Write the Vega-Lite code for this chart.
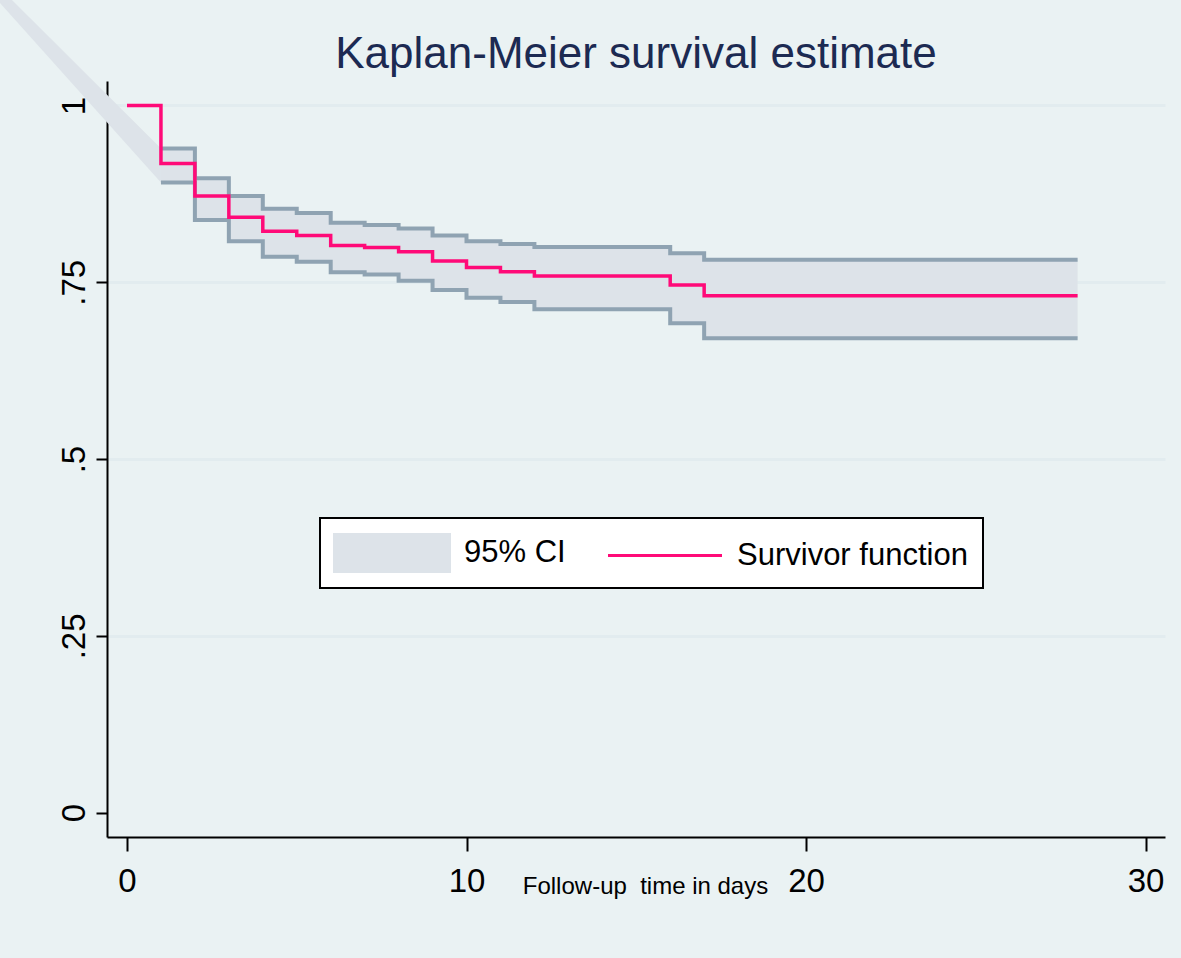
{
  "$schema": "https://vega.github.io/schema/vega-lite/v6.json",
  "width": 1058,
  "height": 756,
  "autosize": {"type": "none"},
  "padding": {"left": 107, "top": 81, "right": 16, "bottom": 121},
  "background": "#eaf2f3",
  "title": {
    "text": "Kaplan-Meier survival estimate",
    "font": "Liberation Sans, Arial, sans-serif",
    "fontSize": 44,
    "fontWeight": "normal",
    "color": "#1c2a52",
    "anchor": "middle",
    "frame": "group",
    "offset": 4,
    "dy": 93
  },
  "config": {
    "view": {"fill": "white", "stroke": null},
    "axis": {
      "domainColor": "black",
      "domainWidth": 2,
      "tickColor": "black",
      "tickWidth": 2,
      "labelColor": "black",
      "titleColor": "black",
      "titleFontWeight": "normal",
      "labelFlush": false,
      "labelOverlap": false
    },
    "legend": {"strokeColor": "black", "strokeWidth": 2, "fillColor": "white", "cornerRadius": 0}
  },
  "datasets": {
    "km": [
      {"t": 0, "s": 1.0, "lo": null, "hi": null},
      {"t": 1, "s": 0.918, "lo": 0.891, "hi": 0.939},
      {"t": 2, "s": 0.872, "lo": 0.838, "hi": 0.897},
      {"t": 3, "s": 0.842, "lo": 0.808, "hi": 0.872},
      {"t": 4, "s": 0.822, "lo": 0.786, "hi": 0.854},
      {"t": 5, "s": 0.816, "lo": 0.779, "hi": 0.848},
      {"t": 6, "s": 0.802, "lo": 0.764, "hi": 0.834},
      {"t": 7, "s": 0.799, "lo": 0.761, "hi": 0.831},
      {"t": 8, "s": 0.793, "lo": 0.752, "hi": 0.826},
      {"t": 9, "s": 0.780, "lo": 0.739, "hi": 0.816},
      {"t": 10, "s": 0.771, "lo": 0.728, "hi": 0.808},
      {"t": 11, "s": 0.765, "lo": 0.722, "hi": 0.804},
      {"t": 12, "s": 0.759, "lo": 0.712, "hi": 0.800},
      {"t": 16, "s": 0.746, "lo": 0.692, "hi": 0.791},
      {"t": 17, "s": 0.731, "lo": 0.671, "hi": 0.782},
      {"t": 28, "s": 0.731, "lo": 0.671, "hi": 0.782}
    ],
    "diag": [
      {"t": -3.74, "lo": 1.145, "hi": 1.166},
      {"t": 1, "lo": 0.891, "hi": 0.939}
    ]
  },
  "layer": [
    {
      "data": {"name": "diag"},
      "mark": {"type": "area", "color": "#dde3e9", "clip": false, "interpolate": "linear"},
      "encoding": {
        "x": {
          "field": "t", "type": "quantitative",
          "scale": {"domain": [-0.589, 30.574], "nice": false, "zero": false},
          "axis": {
            "values": [0, 10, 20, 30],
            "format": "d",
            "tickSize": 14,
            "grid": false,
            "labelFont": "Liberation Sans, Arial, sans-serif",
            "labelFontSize": 33,
            "labelPadding": 14,
            "title": "Follow-up \u00a0time in days",
            "titleFont": "Liberation Sans, Arial, sans-serif",
            "titleFontSize": 24,
            "titleX": 538,
            "titleY": 56,
            "titleAlign": "center",
            "titleBaseline": "alphabetic"
          }
        },
        "y": {
          "field": "lo", "type": "quantitative",
          "scale": {"domain": [-0.0344, 1.0346], "nice": false, "zero": false},
          "axis": {
            "values": [0, 0.25, 0.5, 0.75, 1],
            "labelExpr": "datum.value == 0 ? '0' : datum.value == 1 ? '1' : replace(format(datum.value, '.2~f'), '0.', '.')",
            "tickSize": 11,
            "grid": true,
            "gridColor": "#e2ecef",
            "gridWidth": 3,
            "gridOpacity": {"condition": {"test": "datum.value == 0", "value": 0}, "value": 1},
            "labelFont": "Liberation Sans, Arial, sans-serif",
            "labelFontSize": 33,
            "labelAngle": 270,
            "labelAlign": "center",
            "labelBaseline": "alphabetic",
            "labelPadding": 12,
            "title": null
          }
        },
        "y2": {"field": "hi"}
      }
    },
    {
      "data": {"name": "km"},
      "mark": {"type": "area", "color": "#dde3e9", "interpolate": "step-after"},
      "encoding": {
        "x": {"field": "t", "type": "quantitative"},
        "y": {"field": "lo", "type": "quantitative"},
        "y2": {"field": "hi"}
      }
    },
    {
      "data": {"name": "km"},
      "mark": {"type": "line", "color": "#8fa3b2", "strokeWidth": 4, "interpolate": "step-after"},
      "encoding": {
        "x": {"field": "t", "type": "quantitative"},
        "y": {"field": "lo", "type": "quantitative"}
      }
    },
    {
      "data": {"name": "km"},
      "mark": {"type": "line", "color": "#8fa3b2", "strokeWidth": 4, "interpolate": "step-after"},
      "encoding": {
        "x": {"field": "t", "type": "quantitative"},
        "y": {"field": "hi", "type": "quantitative"}
      }
    },
    {
      "data": {"name": "km"},
      "mark": {"type": "line", "color": "#ff0a78", "strokeWidth": 3.5, "interpolate": "step-after"},
      "encoding": {
        "x": {"field": "t", "type": "quantitative"},
        "y": {"field": "s", "type": "quantitative"}
      }
    },
    {
      "data": {"values": []},
      "mark": {"type": "point", "filled": true, "opacity": 1},
      "encoding": {
        "color": {
          "field": "series", "type": "nominal",
          "scale": {"domain": ["95% CI", "Survivor function"], "range": ["#dde3e9", "#ff0a78"]},
          "legend": {
            "title": null, "orient": "none", "legendX": 213, "legendY": 437,
            "direction": "horizontal", "symbolSize": 1600, "symbolStrokeWidth": 0, "symbolOpacity": 1,
            "symbolOffset": 37,
            "labelFont": "Liberation Sans, Arial, sans-serif", "labelFontSize": 31,
            "labelColor": "black", "labelOffset": 52, "labelLimit": 500, "columnPadding": 42, "padding": 15
          }
        },
        "shape": {
          "field": "series", "type": "nominal",
          "scale": {"domain": ["95% CI", "Survivor function"], "range": ["M-2.95,-1H2.95V1H-2.95Z", "M-2.85,-0.08H2.85V0.08H-2.85Z"]},
          "legend": {
            "title": null, "orient": "none", "legendX": 213, "legendY": 437,
            "direction": "horizontal", "symbolSize": 1600, "symbolStrokeWidth": 0, "symbolOpacity": 1,
            "symbolOffset": 37,
            "labelFont": "Liberation Sans, Arial, sans-serif", "labelFontSize": 31,
            "labelColor": "black", "labelOffset": 52, "labelLimit": 500, "columnPadding": 42, "padding": 15
          }
        }
      }
    }
  ]
}
